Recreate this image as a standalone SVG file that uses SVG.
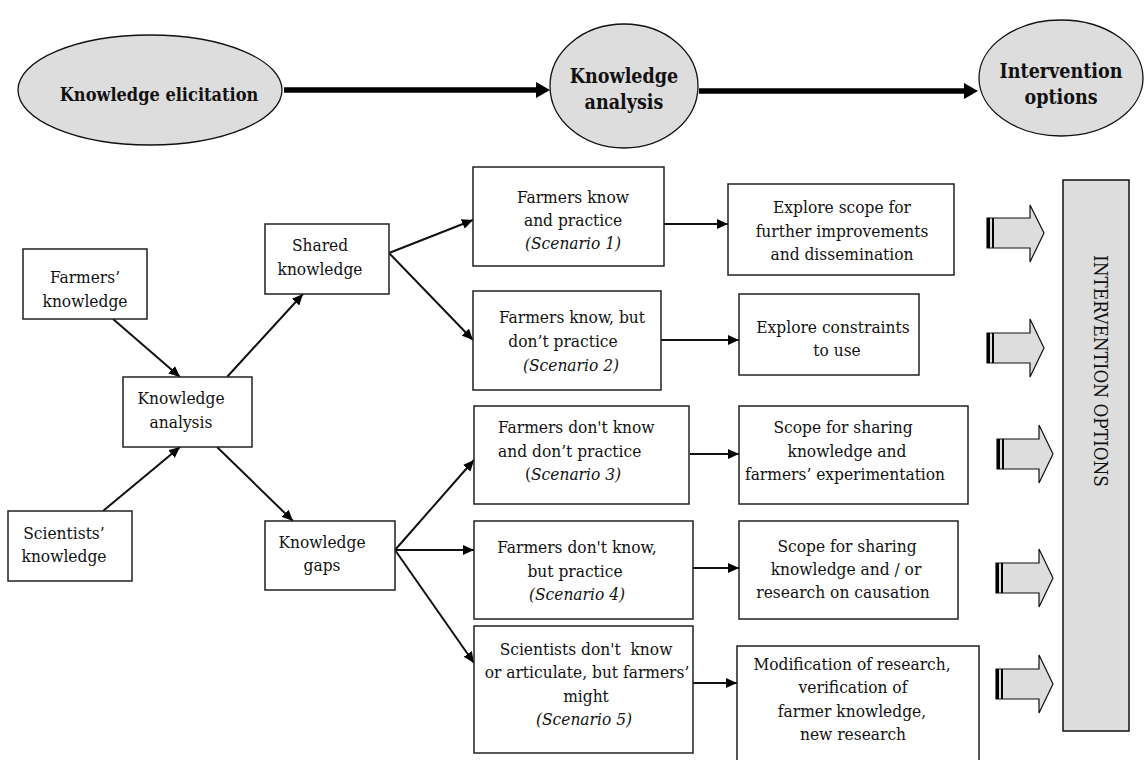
<svg xmlns="http://www.w3.org/2000/svg" width="1144" height="760" viewBox="0 0 1144 760">
<defs>
<style>
text{font-family:"DejaVu Serif Condensed","DejaVu Serif","Liberation Serif",serif;font-stretch:condensed;fill:#111}
.hd{font-weight:bold;font-size:19.5px;text-anchor:middle}
.t{font-size:17.2px;text-anchor:middle}
.s{text-anchor:start}
.it{font-style:italic}
.ell{fill:#dddddd;stroke:#111;stroke-width:1.3}
.box{fill:#fff;stroke:#222;stroke-width:1.5}
.con{stroke:#111;stroke-width:2;fill:none}
.thick{stroke:#000;stroke-width:5.5;fill:none}
.blk{fill:#dddddd;stroke:#111;stroke-width:1.2}
</style>
<marker id="ah" markerUnits="userSpaceOnUse" markerWidth="12" markerHeight="10" refX="11" refY="5" orient="auto">
<path d="M0,0 L11,5 L0,10 z" fill="#000"/>
</marker>
</defs>
<rect width="1144" height="760" fill="#fff"/>

<g id="connectors">
<line class="thick" x1="284" y1="90" x2="538" y2="90"/>
<polygon points="536,82 550,90 536,98" fill="#000"/>
<line class="thick" x1="699" y1="91" x2="966" y2="91"/>
<polygon points="964,83 978,91 964,99" fill="#000"/>

<line class="con" x1="113" y1="319" x2="180" y2="377" marker-end="url(#ah)"/>
<line class="con" x1="103" y1="511" x2="180" y2="447" marker-end="url(#ah)"/>
<line class="con" x1="227" y1="377" x2="303" y2="294" marker-end="url(#ah)"/>
<line class="con" x1="217" y1="447" x2="293" y2="521" marker-end="url(#ah)"/>
<line class="con" x1="389" y1="253" x2="473" y2="220" marker-end="url(#ah)"/>
<line class="con" x1="389" y1="253" x2="473" y2="340" marker-end="url(#ah)"/>
<line class="con" x1="395" y1="550" x2="474" y2="460" marker-end="url(#ah)"/>
<line class="con" x1="395" y1="550" x2="474" y2="550" marker-end="url(#ah)"/>
<line class="con" x1="395" y1="550" x2="474" y2="663" marker-end="url(#ah)"/>
<line class="con" x1="664" y1="224" x2="728" y2="224" marker-end="url(#ah)"/>
<line class="con" x1="661" y1="340" x2="739" y2="340" marker-end="url(#ah)"/>
<line class="con" x1="690" y1="454" x2="739" y2="454" marker-end="url(#ah)"/>
<line class="con" x1="693" y1="568" x2="739" y2="568" marker-end="url(#ah)"/>
<line class="con" x1="693" y1="683" x2="737" y2="683" marker-end="url(#ah)"/>
</g>

<g id="elicitation">
<ellipse class="ell" cx="150" cy="90" rx="132" ry="55"/>
<text class="hd" x="159" y="101" style="font-size:18px">Knowledge elicitation</text>
</g>
<g id="analysis-head">
<ellipse class="ell" cx="624" cy="86" rx="74" ry="62"/>
<text class="hd" x="624" y="83">Knowledge</text>
<text class="hd" x="624" y="109">analysis</text>
</g>
<g id="intervention-head">
<ellipse class="ell" cx="1061" cy="78" rx="82" ry="58"/>
<text class="hd" x="1061" y="78">Intervention</text>
<text class="hd" x="1061" y="104">options</text>
</g>

<g id="farmers">
<rect class="box" x="23" y="249" width="124" height="70"/>
<text class="t" x="85" y="283">Farmers’</text>
<text class="t" x="85" y="307">knowledge</text>
</g>
<g id="scientists">
<rect class="box" x="8" y="511" width="124" height="70"/>
<text class="t" x="64" y="539">Scientists’</text>
<text class="t" x="64" y="562">knowledge</text>
</g>
<g id="k-analysis">
<rect class="box" x="123" y="377" width="129" height="70"/>
<text class="t" x="181" y="404">Knowledge</text>
<text class="t" x="181" y="428">analysis</text>
</g>
<g id="shared">
<rect class="box" x="265" y="224" width="124" height="70"/>
<text class="t" x="320" y="251">Shared</text>
<text class="t" x="320" y="275">knowledge</text>
</g>
<g id="gaps">
<rect class="box" x="265" y="521" width="130" height="69"/>
<text class="t" x="322" y="548">Knowledge</text>
<text class="t" x="322" y="571">gaps</text>
</g>

<g id="s1">
<rect class="box" x="473" y="167" width="191" height="99"/>
<text class="t" x="573" y="203">Farmers know</text>
<text class="t" x="573" y="226">and practice</text>
<text class="t it" x="573" y="249">(Scenario 1)</text>
</g>
<g id="s2">
<rect class="box" x="473" y="291" width="188" height="99"/>
<text class="t" x="572" y="323">Farmers know, but</text>
<text class="t" x="563" y="347">don’t practice</text>
<text class="t it" x="571" y="371">(Scenario 2)</text>
</g>
<g id="s3">
<rect class="box" x="474" y="406" width="215" height="98"/>
<text class="t s" x="498" y="433">Farmers don't know</text>
<text class="t s" x="498" y="457">and don’t practice</text>
<text class="t" x="573" y="480">(<tspan class="it">Scenario 3)</tspan></text>
</g>
<g id="s4">
<rect class="box" x="474" y="521" width="219" height="98"/>
<text class="t" x="577" y="553">Farmers don't know,</text>
<text class="t" x="575" y="577">but practice</text>
<text class="t it" x="577" y="600">(Scenario 4)</text>
</g>
<g id="s5">
<rect class="box" x="474" y="626" width="219" height="127"/>
<text class="t" x="586" y="655" xml:space="preserve">Scientists don't  know</text>
<text class="t" x="587" y="678">or articulate, but farmers’</text>
<text class="t" x="586" y="702">might</text>
<text class="t it" x="584" y="725">(Scenario 5)</text>
</g>

<g id="e1">
<rect class="box" x="728" y="184" width="226" height="91"/>
<text class="t" x="842" y="213">Explore scope for</text>
<text class="t" x="842" y="237">further improvements</text>
<text class="t" x="842" y="260">and dissemination</text>
</g>
<g id="e2">
<rect class="box" x="739" y="294" width="180" height="81"/>
<text class="t" x="833" y="333">Explore constraints</text>
<text class="t" x="837" y="356">to use</text>
</g>
<g id="e3">
<rect class="box" x="739" y="406" width="229" height="98"/>
<text class="t" x="843" y="433">Scope for sharing</text>
<text class="t" x="847" y="457">knowledge and</text>
<text class="t" x="845" y="480">farmers’ experimentation</text>
</g>
<g id="e4">
<rect class="box" x="739" y="521" width="219" height="98"/>
<text class="t" x="847" y="552">Scope for sharing</text>
<text class="t" x="846" y="575">knowledge and / or</text>
<text class="t" x="843" y="598">research on causation</text>
</g>
<g id="e5">
<rect class="box" x="737" y="646" width="242" height="118"/>
<text class="t" x="852" y="670">Modification of research,</text>
<text class="t" x="853" y="693">verification of</text>
<text class="t" x="852" y="717">farmer knowledge,</text>
<text class="t" x="853" y="740">new research</text>
</g>

<g id="block-arrows">
<g id="ba1">
<polygon class="blk" points="987,218 1030,218 1030,205 1044,233 1030,262 1030,248 987,248"/>
<rect x="987" y="218" width="3" height="30" fill="#000"/><rect x="992" y="218" width="2" height="30" fill="#000"/>
</g>
<g id="ba2">
<polygon class="blk" points="987,333 1030,333 1030,319 1044,348 1030,377 1030,363 987,363"/>
<rect x="987" y="333" width="3" height="30" fill="#000"/><rect x="992" y="333" width="2" height="30" fill="#000"/>
</g>
<g id="ba3">
<polygon class="blk" points="997,439 1039,439 1039,425 1053,454 1039,483 1039,469 997,469"/>
<rect x="997" y="439" width="3" height="30" fill="#000"/><rect x="1002" y="439" width="2" height="30" fill="#000"/>
</g>
<g id="ba4">
<polygon class="blk" points="996,563 1039,563 1039,549 1053,578 1039,607 1039,593 996,593"/>
<rect x="996" y="563" width="3" height="30" fill="#000"/><rect x="1001" y="563" width="2" height="30" fill="#000"/>
</g>
<g id="ba5">
<polygon class="blk" points="996,669 1039,669 1039,655 1053,684 1039,713 1039,699 996,699"/>
<rect x="996" y="669" width="3" height="30" fill="#000"/><rect x="1001" y="669" width="2" height="30" fill="#000"/>
</g>
</g>

<g id="intervention-options">
<rect x="1063" y="180" width="66" height="551" fill="#dddddd" stroke="#111" stroke-width="1.5"/>
<text class="t" style="font-size:18.8px" transform="translate(1094,371) rotate(90)" x="0" y="0">INTERVENTION OPTIONS</text>
</g>
</svg>
